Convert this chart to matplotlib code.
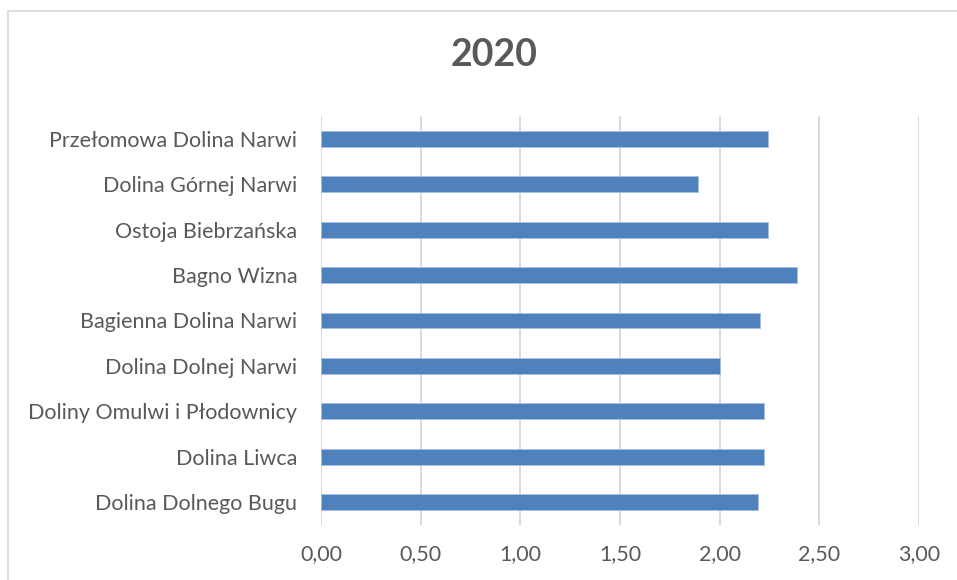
import matplotlib
matplotlib.use('Agg')
import matplotlib.pyplot as plt
from matplotlib.patches import Rectangle
from matplotlib.ticker import FuncFormatter

# dane z wykresu (od góry do dołu)
regions = ["Przełomowa Dolina Narwi", "Dolina Górnej Narwi", "Ostoja Biebrzańska",
           "Bagno Wizna", "Bagienna Dolina Narwi", "Dolina Dolnej Narwi",
           "Doliny Omulwi i Płodownicy", "Dolina Liwca", "Dolina Dolnego Bugu"]
values = [2.24, 1.89, 2.24, 2.39, 2.20, 2.00, 2.22, 2.22, 2.19]
xticks = [0, 0.5, 1.0, 1.5, 2.0, 2.5, 3.0]
title = "2020"

plt.rcParams['font.family'] = ['Lato', 'DejaVu Sans']
text_color = '#595959'
grid_color = '#d9d9d9'

fig = plt.figure(figsize=(9.57, 5.8), dpi=100)
# ramka wykresu (prawa i dolna krawędź poza obrazkiem)
fig.patches.append(Rectangle((8 / 957, -0.1), 1.2, 1.1 - 11 / 580, transform=fig.transFigure,
                             fill=False, edgecolor=grid_color, linewidth=1.2))

ax = fig.add_axes([321 / 957, 55 / 580, 598 / 957, 409 / 580])
ypos = list(range(len(regions)))[::-1]
ax.barh(ypos, values, height=0.35, color='#4f81bd', edgecolor='#a9c0e0', linewidth=0.6, zorder=3)

ax.set_xlim(0, 3.0)
ax.set_ylim(-0.5, len(regions) - 0.5)
ax.set_xticks(xticks)
ax.xaxis.set_major_formatter(FuncFormatter(lambda v, p: f"{v:.2f}".replace('.', ',')))
ax.set_yticks(ypos)
ax.set_yticklabels(regions)
ax.tick_params(axis='both', length=0, labelsize=15.5, colors=text_color)
ax.tick_params(axis='x', pad=14)
ax.tick_params(axis='y', pad=17)
ax.grid(axis='x', color=grid_color, linewidth=1.4, zorder=0)
for s in ax.spines.values():
    s.set_visible(False)

fig.text(494 / 957, 1 - 55 / 580, title, ha='center', va='center', fontsize=27,
         fontweight='bold', color=text_color)

fig.savefig('out.png', dpi=100)
